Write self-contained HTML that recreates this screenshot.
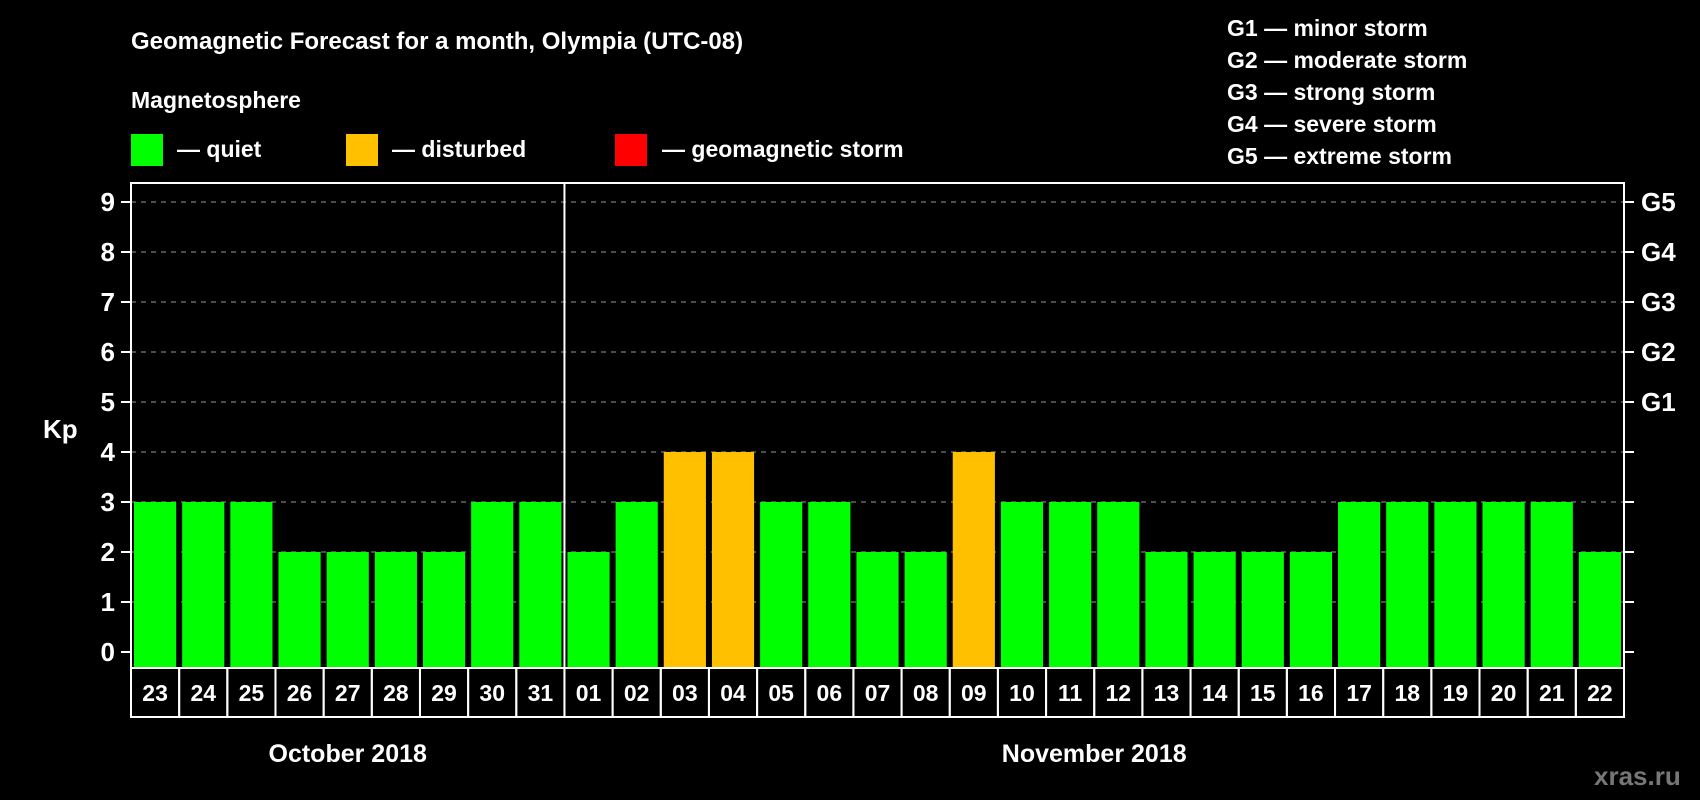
<!DOCTYPE html>
<html><head><meta charset="utf-8"><style>
html,body{margin:0;padding:0;background:#000;}
svg{display:block;font-family:"Liberation Sans",Arial,sans-serif;font-weight:bold;}
</style></head><body>
<svg id="chart" width="1700" height="800" viewBox="0 0 1700 800">
<text x="131" y="49" fill="#fff" font-size="24">Geomagnetic Forecast for a month, Olympia (UTC-08)</text>
<text x="131" y="108" fill="#fff" font-size="23">Magnetosphere</text>
<rect x="131" y="134" width="32" height="32" fill="#00ff00"/>
<text x="177" y="157" fill="#fff" font-size="23">— quiet</text>
<rect x="346" y="134" width="32" height="32" fill="#ffc000"/>
<text x="392" y="157" fill="#fff" font-size="23">— disturbed</text>
<rect x="615" y="134" width="32" height="32" fill="#ff0000"/>
<text x="662" y="157" fill="#fff" font-size="23">— geomagnetic storm</text>
<g fill="#fff" font-size="23">
<text x="1227" y="36">G1 — minor storm</text>
<text x="1227" y="68">G2 — moderate storm</text>
<text x="1227" y="100">G3 — strong storm</text>
<text x="1227" y="132">G4 — severe storm</text>
<text x="1227" y="164">G5 — extreme storm</text>
</g>
<text x="43" y="438" fill="#fff" font-size="26">Kp</text>
<text x="1594" y="785" fill="#777" font-size="26">xras.ru</text>
<g id="plot"></g>
</svg>
<script>
const days = ["23","24","25","26","27","28","29","30","31","01","02","03","04","05","06","07","08","09","10","11","12","13","14","15","16","17","18","19","20","21","22"];
const kpValues = [3,3,3,2,2,2,2,3,3,2,3,4,4,3,3,2,2,4,3,3,3,2,2,2,2,3,3,3,3,3,2];
const yTicks = [0,1,2,3,4,5,6,7,8,9];
const gLabels = ["","","","","","G1","G2","G3","G4","G5"];
const months = [{name:"October 2018",start:0,end:9},{name:"November 2018",start:9,end:31}];

const NS="http://www.w3.org/2000/svg";
const L=131,R=1624,T=183,B=668,Y0=652,unit=50;
const step=(R-L)/days.length;
const y=v=>Y0-v*unit;
const x=i=>L+i*step;
const g=document.getElementById('plot');
function mk(tag,attrs){const e=document.createElementNS(NS,tag);for(const k in attrs)e.setAttribute(k,attrs[k]);g.appendChild(e);return e;}
function color(v){return v>=5?"#ff0000":(v>=4?"#ffc000":"#00ff00");}

yTicks.forEach((t,i)=>{
  if(t>0){const gl=mk('line',{x1:L,x2:R,y1:y(t),y2:y(t),stroke:"#999","stroke-width":1,"stroke-dasharray":"5,5"});
  
  }
  const tl=mk('line',{x1:L-10,x2:L,y1:y(t),y2:y(t),stroke:"#fff","stroke-width":2});
  
  
  const tr=mk('line',{x1:R,x2:R+10,y1:y(t),y2:y(t),stroke:"#fff","stroke-width":2});
  
  
  const lb=mk('text',{x:115,y:y(t)+9,fill:"#fff","font-size":26,"text-anchor":"end"});
  lb.textContent=t;
  
  
  if(gLabels[i]){const gr=mk('text',{x:1641,y:y(t)+9,fill:"#fff","font-size":26});
  gr.textContent=gLabels[i];
  
  }
});

kpValues.forEach((v,i)=>{
  const b=mk('rect',{x:x(i)+3,y:y(v),width:step-6,height:B-y(v),fill:color(v)});
  
  
  const c=mk('rect',{x:x(i),y:B,width:step,height:49,fill:"none",stroke:"#fff","stroke-width":2});
  
  
  const t=mk('text',{x:x(i)+step/2,y:B+33,fill:"#fff","font-size":23,"text-anchor":"middle"});
  t.textContent=days[i];
  
  
});

const frame=mk('rect',{x:L,y:T,width:R-L,height:B-T,fill:"none",stroke:"#fff","stroke-width":2});


const div=mk('line',{x1:x(9),x2:x(9),y1:T,y2:B,stroke:"#fff","stroke-width":2});



months.forEach(m=>{
  const t=mk('text',{x:(x(m.start)+x(m.end))/2,y:762,fill:"#fff","font-size":25,"text-anchor":"middle"});
  t.textContent=m.name;
  
  
});
</script>
</body></html>
